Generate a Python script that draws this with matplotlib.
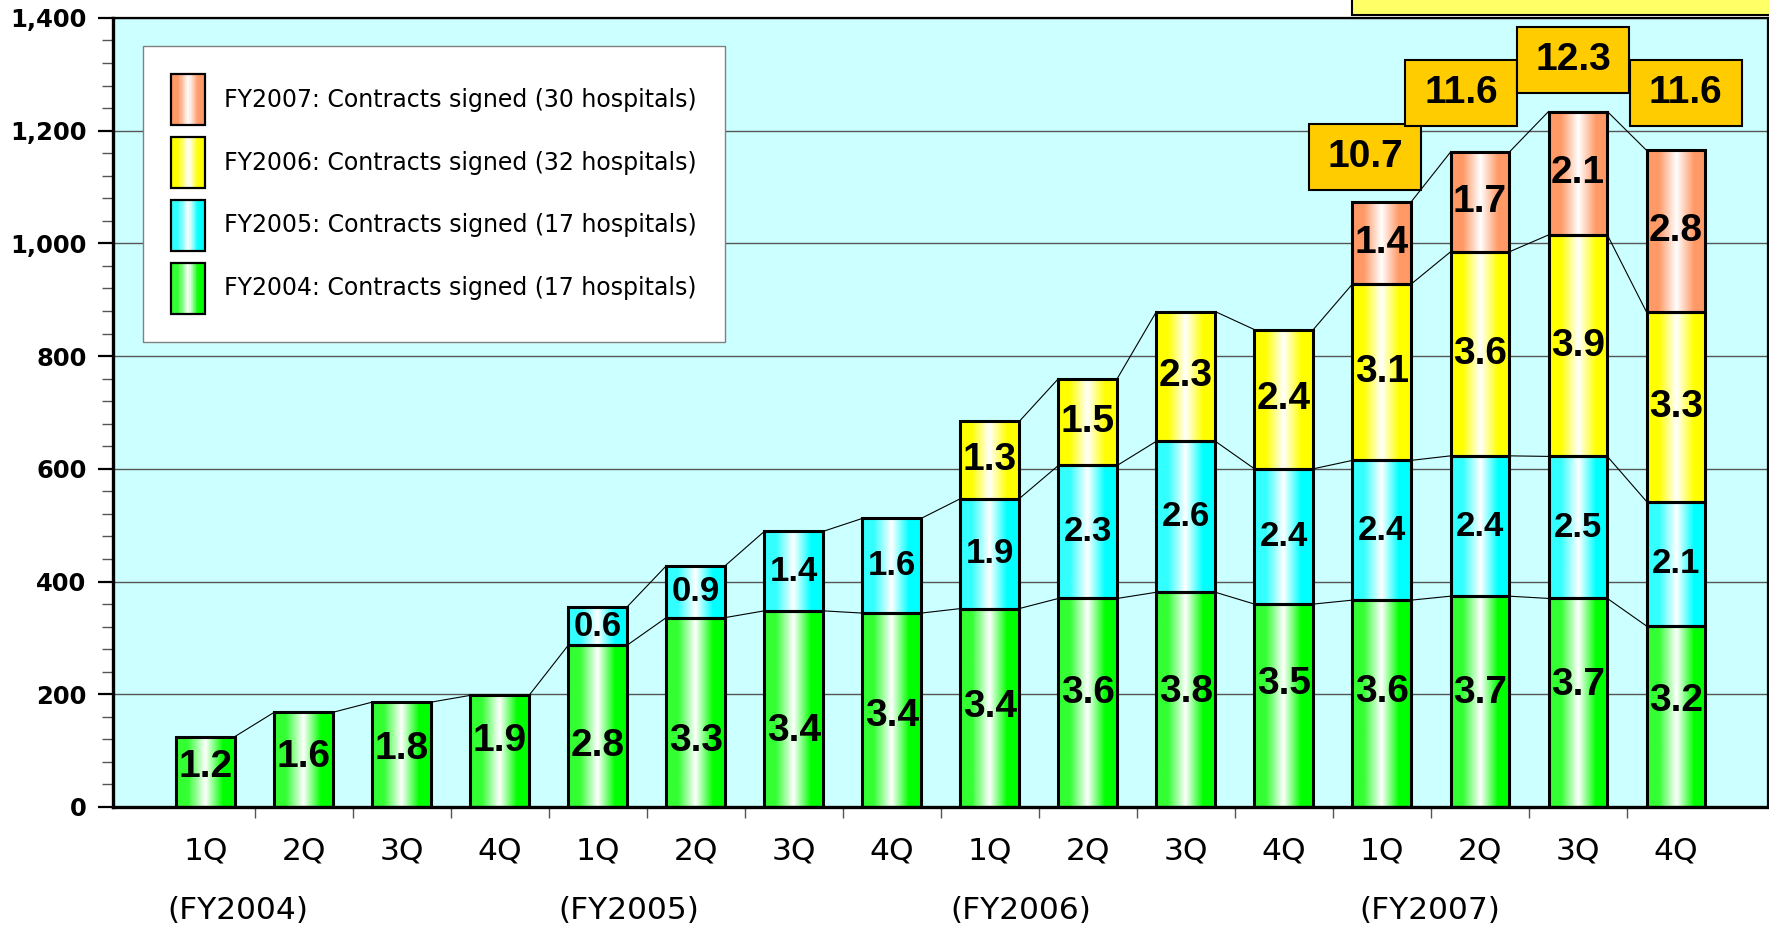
import numpy as np
import matplotlib
matplotlib.use("Agg")
import matplotlib.pyplot as plt
from matplotlib.colors import LinearSegmentedColormap
from matplotlib.patches import Rectangle
from matplotlib.legend_handler import HandlerBase
from matplotlib.ticker import MultipleLocator, FixedLocator

nan = np.nan

# quarterly values, stacked by the fiscal year the contract was signed
quarters = ["1Q", "2Q", "3Q", "4Q"] * 4
fiscal_years = ["(FY2004)", "(FY2005)", "(FY2006)", "(FY2007)"]

fy2004 = [125, 168, 186, 198, 287, 336, 348, 344, 352, 370, 381, 360, 367, 374, 370, 321]
fy2005 = [nan] * 4 + [68, 92, 141, 168, 195, 236, 268, 240, 248, 249, 252, 221]
fy2006 = [nan] * 8 + [137, 154, 230, 247, 313, 362, 393, 336]
fy2007 = [nan] * 12 + [146, 177, 219, 287]

lbl2004 = [1.2, 1.6, 1.8, 1.9, 2.8, 3.3, 3.4, 3.4, 3.4, 3.6, 3.8, 3.5, 3.6, 3.7, 3.7, 3.2]
lbl2005 = [nan] * 4 + [0.6, 0.9, 1.4, 1.6, 1.9, 2.3, 2.6, 2.4, 2.4, 2.4, 2.5, 2.1]
lbl2006 = [nan] * 8 + [1.3, 1.5, 2.3, 2.4, 3.1, 3.6, 3.9, 3.3]
lbl2007 = [nan] * 12 + [1.4, 1.7, 2.1, 2.8]

fy2007_totals = [10.7, 11.6, 12.3, 11.6]

legend_labels = [
    "FY2004: Contracts signed (17 hospitals)",
    "FY2005: Contracts signed (17 hospitals)",
    "FY2006: Contracts signed (32 hospitals)",
    "FY2007: Contracts signed (30 hospitals)",
]

# hand nudges (in axis units) for the labels inside the bottom segments
green_label_dy = [9, 5, 10, 18, -36, -51, -39, -11, 1, 18, 13, 39, 20, 16, 32, 27]
no_dy = [0] * 16


def shaded(name, edge, mid_l):
    # horizontal "cylinder" shading: colour at the sides, white streak just left of centre
    return LinearSegmentedColormap.from_list(
        name, [(0.0, mid_l), (0.2, mid_l), (0.5, "#ffffff"), (0.8, edge), (1.0, edge)]
    )


green = shaded("green", "#00ff00", "#33ff33")
cyan = shaded("cyan", "#00ffff", "#33ffff")
yellow = shaded("yellow", "#ffff00", "#ffff00")
salmon = shaded("salmon", "#ff9966", "#ff9966")

series = [
    (fy2004, lbl2004, green, 28, green_label_dy),
    (fy2005, lbl2005, cyan, 25, no_dy),
    (fy2006, lbl2006, yellow, 28, no_dy),
    (fy2007, lbl2007, salmon, 28, no_dy),
]

num_font = dict(family=["Liberation Sans", "DejaVu Sans"], fontweight="bold")

fig = plt.figure(figsize=(17.69, 9.30), dpi=100)
ax = fig.add_axes([0.0639, 0.1323, 0.9356, 0.8484])
ax.set_facecolor("#ccffff")

x = np.arange(len(quarters))
width = 0.6
grad = np.linspace(0, 1, 256).reshape(1, -1)

bottom = np.zeros(len(x))
for vals, lbls, cmap, fs, dy in series:
    v = np.array(vals, dtype=float)
    present = ~np.isnan(v)
    h = np.nan_to_num(v)
    bars = ax.bar(x[present], h[present], width, bottom=bottom[present],
                  facecolor="none", edgecolor="black", linewidth=2.2, zorder=3)
    for rect in bars:
        x0, y0 = rect.get_x(), rect.get_y()
        ax.imshow(grad, cmap=cmap, aspect="auto", interpolation="bilinear", zorder=2,
                  extent=[x0, x0 + rect.get_width(), y0, y0 + rect.get_height()])
    tops = bottom + h
    # thin series lines joining the tops of the same segment
    for i in range(len(x) - 1):
        if present[i] and present[i + 1]:
            ax.plot([x[i] + width / 2, x[i + 1] - width / 2], [tops[i], tops[i + 1]],
                    color="black", lw=0.8, zorder=2.5)
    for i in np.where(present)[0]:
        ax.text(x[i], bottom[i] + h[i] / 2 + dy[i], f"{lbls[i]:.1f}", ha="center",
                va="center", fontsize=fs, zorder=4, **num_font)
    bottom = tops

# callout boxes with the FY2007 quarter totals
box_dx = [-0.17, -0.19, -0.05, 0.10]
box_y = [1094, 1208, 1267, 1208]
box_w, box_h = 1.14, 117
for k, i in enumerate(x[-4:]):
    cx = i + box_dx[k]
    ax.add_patch(Rectangle((cx - box_w / 2, box_y[k]), box_w, box_h, facecolor="#ffcc00",
                           edgecolor="black", lw=1.5, zorder=4))
    ax.text(cx, box_y[k] + box_h / 2, f"{fy2007_totals[k]:.1f}", ha="center", va="center",
            fontsize=28, zorder=5, **num_font)

ax.set_xlim(-0.944, 15.94)
ax.set_ylim(0, 1400)

# axes styling
ax.yaxis.set_major_locator(MultipleLocator(200))
ax.yaxis.set_minor_locator(MultipleLocator(40))
ax.set_yticklabels([f"{int(t):,}" for t in ax.get_yticks()])
ax.tick_params(axis="y", which="major", length=11, width=1.6, pad=8, labelsize=17.5)
ax.tick_params(axis="y", which="minor", length=8, width=1, color="#555555")
for lab in ax.get_yticklabels():
    lab.set_fontweight("bold")

ax.set_xticks(x)
ax.set_xticklabels(quarters, fontsize=22.5)
ax.xaxis.set_minor_locator(FixedLocator(x[:-1] + 0.5))
ax.tick_params(axis="x", which="major", length=0, pad=21)
ax.tick_params(axis="x", which="minor", length=8, width=1, color="#555555")

for i, fy in zip([0.33, 4.32, 8.32, 12.49], fiscal_years):
    ax.annotate(fy, xy=(i, -0.131), xycoords=("data", "axes fraction"),
                ha="center", va="center", fontsize=22.5, annotation_clip=False)

ax.yaxis.grid(True, color="#555555", lw=1)
ax.set_axisbelow(True)
ax.spines["left"].set_linewidth(2.4)
ax.spines["bottom"].set_linewidth(2.4)
ax.spines["top"].set_linewidth(1.6)
ax.spines["right"].set_linewidth(1.6)


class GradientSwatch:
    def __init__(self, cmap):
        self.cmap = cmap


class GradientHandler(HandlerBase):
    def create_artists(self, legend, orig_handle, xdescent, ydescent, width, height,
                       fontsize, trans):
        n = 30
        x0, y0 = -xdescent, -ydescent
        arts = []
        for k in range(n):
            arts.append(Rectangle((x0 + width * k / n, y0), width / n * 1.1, height,
                                  facecolor=orig_handle.cmap((k + 0.5) / n),
                                  edgecolor="none", transform=trans))
        arts.append(Rectangle((x0, y0), width, height, facecolor="none",
                              edgecolor="black", lw=1.6, transform=trans))
        return arts


handles = [GradientSwatch(s[2]) for s in series][::-1]
leg = ax.legend(handles, legend_labels[::-1], handler_map={GradientSwatch: GradientHandler()},
                loc="upper left", bbox_to_anchor=(0.0181, 0.9645), borderaxespad=0,
                fontsize=17, handlelength=1.44, handleheight=2.95, handletextpad=0.8,
                labelspacing=0.5, borderpad=1.2, fancybox=False, framealpha=1,
                edgecolor="#808080")
leg.get_frame().set_linewidth(1)

# note box running off the top right corner
fig.add_artist(Rectangle((1352 / 1769, 1 - 15 / 930), 0.3, 0.1, transform=fig.transFigure,
                         facecolor="#ffff66", edgecolor="black", lw=1.5))

fig.savefig("out.png", dpi=100)
